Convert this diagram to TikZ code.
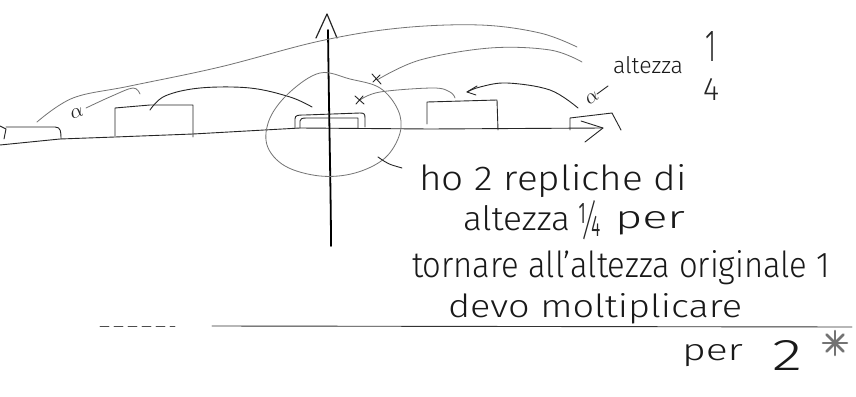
\documentclass[tikz,border=0pt]{standalone}
\usepackage{fontspec}
\IfFontExistsTF{Fira Sans Light}{\setmainfont{Fira Sans Light}}{\setmainfont{Fira Sans}}
\usetikzlibrary{arrows.meta}
% scale a handwritten-looking label to a given width and height
\newcommand{\handlabel}[3]{\resizebox{#1pt}{#2pt}{#3}}
\begin{document}
\begin{tikzpicture}[x=1pt,y=-1pt,
  ink/.style={line width=0.9pt, black!85, line cap=round, line join=round},
  faint/.style={line width=0.8pt, black!55, line cap=round, line join=round},
  axisline/.style={line width=1.8pt, black, line cap=round},
  txt/.style={inner sep=0pt, outer sep=0pt, anchor=base west, text=black!90},
  glyph/.style={inner sep=0pt, outer sep=0pt, text=black!85}]
\fill[white] (0,0) rectangle (856,396);
\useasboundingbox (0,0) rectangle (856,396);

% ---- horizontal axis with its arrow tip
\coordinate (xend) at (603,128);
\draw[ink] (0,145) -- (60,139) -- (115,137) -- (193,134) -- (300,128) -- (430,129) -- (xend);
\draw[ink] (581,121) -- (xend) -- (585,142);

% ---- vertical axis with its arrow tip
\coordinate (ytop) at (327,14);
\draw[axisline] (328,30) .. controls (329,120) and (331,200) .. (331,246);
\draw[ink, line width=1.2pt] (316,38) -- (ytop) -- (337,38);

% ---- the replicas of height 1/4 along the axis
% left (cut at the border)
\draw[ink] (0,126) -- (6,129) -- (4,139);
\draw[ink] (6,127) -- (55,127) .. controls (61,127) and (61,132) .. (61,139);
% second
\draw[ink] (115,136) -- (115,108) -- (150,105) -- (193,105) -- (193,137);
% central one, drawn twice
\draw[ink] (295,128) -- (295,119) .. controls (295,115) and (298,115) .. (305,115)
  -- (360,113) .. controls (364,113) and (365,114) .. (365,118) -- (365,127);
\draw[ink] (300,128) -- (300,121) .. controls (300,119) and (302,118) .. (306,118)
  -- (358,118) -- (358,128);
% fourth
\draw[ink] (427,124) -- (427,102) -- (497,100) -- (498,130);
% right (cut at the arrow)
\draw[ink] (570,130) -- (570,118) -- (612,113) -- (621,130);

% ---- arrow-tip marks
\node[glyph, rotate=20] (tipL) at (77,113) {\handlabel{13}{9}{$\alpha$}};
\node[glyph, rotate=35] (tipR) at (592,98) {\handlabel{13}{9}{$\alpha$}};
\draw[ink] (597,94) -- (608,86);

% ---- connectors between the replicas
\coordinate (aL) at (37,122);
\coordinate (aR) at (577,47);
\draw[faint] plot[smooth, tension=0.6] coordinates
  {(aL) (73,98) (130,86) (220,67) (320,41) (400,28) (480,25) (540,33) (aR)};
\draw[faint] plot[smooth, tension=0.6] coordinates
  {(86,108) (112,96) (133,88) (140,94)};
\coordinate (cL) at (150,110);
\coordinate (cR) at (312,107);
\draw[ink] plot[smooth, tension=0.6] coordinates
  {(cL) (165,96) (200,88) (250,88) (290,97) (cR)};
\coordinate (dL) at (377,80);
\coordinate (dR) at (582,62);
\draw[faint] plot[smooth, tension=0.6] coordinates
  {(dL) (420,60) (490,48) (550,50) (dR)};
\draw[ink] (372,74) -- (381,84) (373,82) -- (380,75);
\coordinate (eL) at (360,100);
\coordinate (eR) at (455,98);
\draw[faint] plot[smooth, tension=0.6] coordinates
  {(eL) (380,92) (433,88) (450,92) (eR)};
\draw[ink] (355,96) -- (364,104) (356,104) -- (363,96);
\coordinate (fL) at (467,92);
\coordinate (fR) at (578,108);
\draw[ink] plot[smooth, tension=0.6] coordinates
  {(fR) (550,90) (507,83) (480,87) (fL)};
\draw[ink] (477,86) -- (fL) -- (476,95);

% ---- loop around the central replica and its pointer
\draw[faint] plot[smooth cycle, tension=0.6] coordinates
  {(320,73) (350,79) (380,88) (398,110) (400,133) (385,158) (355,173)
   (320,176) (285,166) (267,145) (270,118) (290,92)};
\draw[ink] (378,157) .. controls (388,164) .. (402,168);

% ---- labels
\node[txt] (hq) at (613,74) {\handlabel{70}{17}{altezza}};
\node[glyph] (hq1) at (711,46) {\handlabel{11}{30}{1}};
\node[glyph] (hq4) at (711,89) {\handlabel{16}{22}{4}};

\node[txt] (l1) at (419,190) {\handlabel{268}{26}{ho 2 repliche di}};
\node[txt] (l2a) at (463,230) {\handlabel{107}{25}{altezza}};
\node[glyph] (l2b) at (589,220) {\handlabel{24}{36}{¼}};
\node[txt] (l2c) at (615,228) {\handlabel{70}{17}{per}};
\node[txt] (l3) at (412,277) {\handlabel{418}{27}{tornare all'altezza originale 1}};
\node[txt] (l4) at (448,317) {\handlabel{294}{24}{devo moltiplicare}};
\node[txt] (l5a) at (682,360) {\handlabel{61}{16}{per}};
\node[txt] (l5b) at (772,370) {\handlabel{30}{30}{2}};

% smudged star after the last line
\foreach \a in {0,45,90,135}
  \draw[black!55, line width=2.6pt, line cap=round] (835,343) ++(\a:12) -- ++(\a+180:24);

% ---- rule under the text
\draw[ink, black!70, dash pattern=on 9pt off 5pt] (100,326) -- (175,326);
\draw[ink, black!80] (212,326) -- (852,327);
\end{tikzpicture}
\end{document}
